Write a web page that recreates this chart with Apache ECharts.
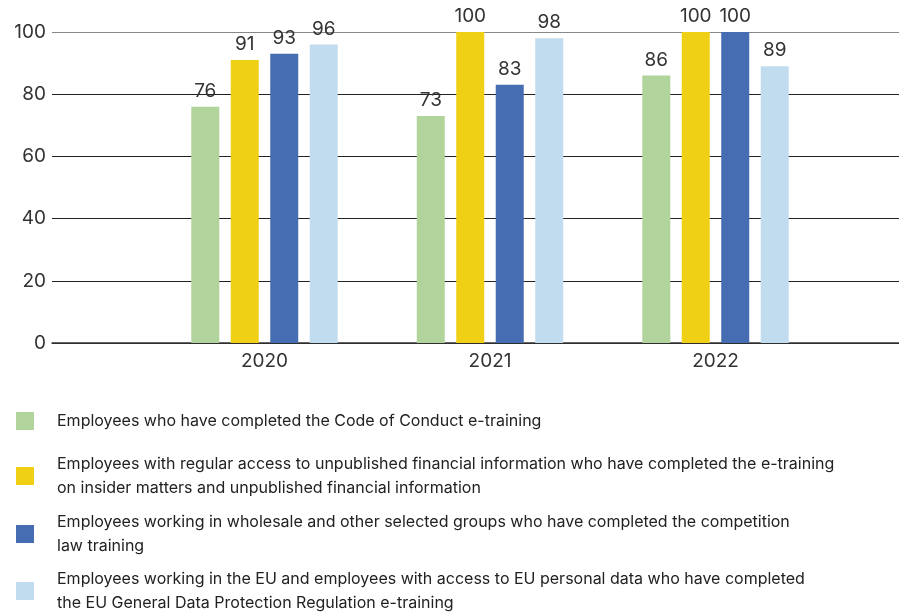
<!DOCTYPE html>
<html>
<head>
<meta charset="utf-8">
<script src="https://cdn.jsdelivr.net/npm/echarts@6/dist/echarts.min.js"></script>
<style>
  html, body { margin: 0; padding: 0; background: #fff; }
  #chart { width: 899px; height: 612px; }
</style>
</head>
<body>
<div id="chart"></div>
<script>
var years = ["2020", "2021", "2022"];
var seriesNames = [
  "Employees who have completed the Code of Conduct e-training",
  "Employees with regular access to unpublished financial information who have completed the e-training on insider matters and unpublished financial information",
  "Employees working in wholesale and other selected groups who have completed the competition law training",
  "Employees working in the EU and employees with access to EU personal data who have completed the EU General Data Protection Regulation e-training"
];
// legend line breaks as in the picture
var legendLines = [
  ["Employees who have completed the Code of Conduct e-training"],
  ["Employees with regular access to unpublished financial information who have completed the e-training",
   "on insider matters and unpublished financial information"],
  ["Employees working in wholesale and other selected groups who have completed the competition",
   "law training"],
  ["Employees working in the EU and employees with access to EU personal data who have completed",
   "the EU General Data Protection Regulation e-training"]
];
var codeOfConduct = [76, 73, 86];
var insiderMatters = [91, 100, 100];
var competitionLaw = [93, 83, 100];
var gdpr = [96, 98, 89];
var yTicks = [0, 20, 40, 60, 80, 100];

var colors = ["#b1d39c", "#efd014", "#466db2", "#c2dcef"];
var values = [codeOfConduct, insiderMatters, competitionLaw, gdpr];
var font = "Inter, 'DejaVu Sans', sans-serif";

var chart = echarts.init(document.getElementById("chart"));

var legendTops = [409, 452, 510, 567];

var series = values.map(function (v, i) {
  return {
    name: seriesNames[i],
    type: "bar",
    xAxisIndex: 1,
    yAxisIndex: 1,
    data: v,
    barWidth: 28,
    barGap: "41%",
    itemStyle: { color: colors[i] },
    label: {
      show: true,
      position: "top",
      distance: 6,
      color: "#333",
      fontSize: 19,
      fontFamily: font
    }
  };
});

chart.setOption({
  animation: false,
  color: colors,
  grid: [
    { left: 52, right: 0, top: 32, height: 311 },
    { left: 151.75, right: 70.75, top: 32, height: 311 }
  ],
  xAxis: [
    {
      gridIndex: 0,
      type: "category",
      data: [""],
      axisLine: { show: true, lineStyle: { color: "#333", width: 1.5 } },
      axisTick: { show: false },
      axisLabel: { show: false }
    },
    {
      gridIndex: 1,
      type: "category",
      data: years,
      axisLine: { show: false },
      axisTick: { show: false },
      axisLabel: { color: "#333", fontSize: 19, fontFamily: font, margin: 9 }
    }
  ],
  yAxis: [
    {
      gridIndex: 0,
      type: "value",
      min: yTicks[0],
      max: yTicks[yTicks.length - 1],
      interval: 20,
      axisLine: { show: false },
      axisTick: { show: false },
      axisLabel: { color: "#333", fontSize: 19, fontFamily: font, margin: 6 },
      splitLine: {
        lineStyle: { color: ["#222", "#222", "#222", "#222", "#222", "#888"], width: 1.2 }
      }
    },
    {
      gridIndex: 1,
      type: "value",
      min: 0,
      max: 100,
      show: false,
      splitLine: { show: false }
    }
  ],
  legend: seriesNames.map(function (n, i) {
    return {
      data: [n],
      orient: "vertical",
      left: 16,
      top: legendTops[i],
      padding: 0,
      itemWidth: 18,
      itemHeight: 18,
      icon: "rect",
      selectedMode: false,
      formatter: function () { return legendLines[i].join("\n"); },
      textStyle: { color: "#222", fontSize: 16, lineHeight: 24, fontFamily: font, padding: [0, 0, 0, 18] }
    };
  }),
  series: series
});
</script>
</body>
</html>
